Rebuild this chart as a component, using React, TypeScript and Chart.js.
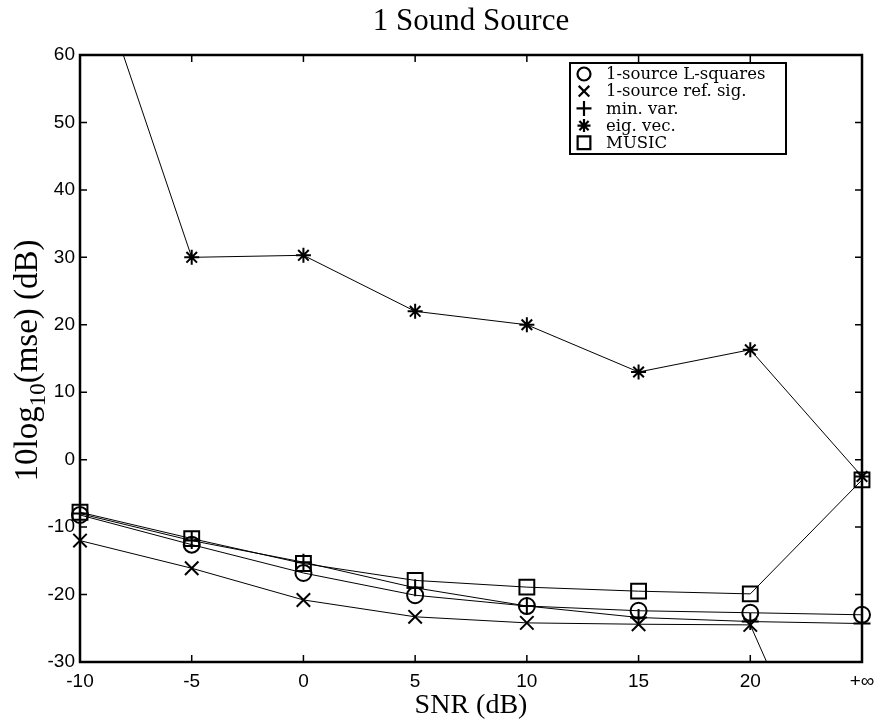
import React, { useEffect, useRef } from 'react';
import { Chart, registerables } from 'chart.js';

Chart.register(...registerables);

// SNR positions (25 stands for +∞)
const snr = [-10, -5, 0, 5, 10, 15, 20, 25];
const xTickLabels = ['-10', '-5', '0', '5', '10', '15', '20', '+∞'];
const yTickValues = [-30, -20, -10, 0, 10, 20, 30, 40, 50, 60];

const seriesNames = ['1-source L-squares', '1-source ref. sig.', 'min. var.', 'eig. vec.', 'MUSIC'];
const lSquares = [-8.2, -12.6, -16.8, -20.1, -21.7, -22.4, -22.7, -23.0];
const refSig = [-12.0, -16.1, -20.8, -23.3, -24.2, -24.4, -24.5, -62];
const minVar = [-8.0, -12.0, -15.2, -19.0, -21.7, -23.4, -24.0, -24.3];
const eigVec = [79, 30, 30.3, 22, 20, 13, 16.3, -2.5];
const music = [-7.8, -11.7, -15.4, -17.9, -18.9, -19.5, -19.9, -3.0];

const pointStyles = ['circle', 'crossRot', 'cross', 'star', 'rect'];
const pointRadii = [8, 9.5, 8.5, 7.5, 10.5];
const legendRadii = [6.5, 7.5, 7.5, 6.5, 9];

function drawMarker(ctx: CanvasRenderingContext2D, style: string, x: number, y: number, r: number) {
  ctx.beginPath();
  if (style === 'circle') {
    ctx.arc(x, y, r, 0, Math.PI * 2);
  } else if (style === 'rect') {
    const s = r * Math.SQRT1_2;
    ctx.rect(x - s, y - s, 2 * s, 2 * s);
  } else {
    const drawCross = (rot: boolean) => {
      for (let k = 0; k < 2; k++) {
        const a = (rot ? Math.PI / 4 : 0) + (k * Math.PI) / 2;
        const dx = Math.cos(a) * r;
        const dy = Math.sin(a) * r;
        ctx.moveTo(x - dx, y - dy);
        ctx.lineTo(x + dx, y + dy);
      }
    };
    if (style === 'cross') drawCross(false);
    else if (style === 'crossRot') drawCross(true);
    else {
      drawCross(false);
      drawCross(true);
    }
  }
  ctx.stroke();
}

const framePlugin = {
  id: 'frameTicks',
  beforeDraw(chart: any) {
    const ctx = chart.ctx;
    ctx.save();
    ctx.fillStyle = '#fff';
    ctx.fillRect(0, 0, chart.width, chart.height);
    ctx.restore();
  },
  afterDraw(chart: any) {
    const { ctx, chartArea: a, scales } = chart;
    ctx.save();
    ctx.strokeStyle = '#000';
    ctx.lineWidth = 1.5;
    const tl = 7;
    ctx.beginPath();
    snr.forEach((v) => {
      const px = scales.x.getPixelForValue(v);
      if (px > a.left + 1 && px < a.right - 1) {
        ctx.moveTo(px, a.bottom);
        ctx.lineTo(px, a.bottom - tl);
        ctx.moveTo(px, a.top);
        ctx.lineTo(px, a.top + tl);
      }
    });
    yTickValues.forEach((v) => {
      const py = scales.y.getPixelForValue(v);
      if (py > a.top + 1 && py < a.bottom - 1) {
        ctx.moveTo(a.left, py);
        ctx.lineTo(a.left + tl, py);
        ctx.moveTo(a.right, py);
        ctx.lineTo(a.right - tl, py);
      }
    });
    ctx.stroke();
    ctx.lineWidth = 2.5;
    ctx.strokeRect(a.left, a.top, a.right - a.left, a.bottom - a.top);

    // y-axis title with subscript
    ctx.save();
    const cy = (a.top + a.bottom) / 2 + 2;
    ctx.translate(27, cy);
    ctx.rotate(-Math.PI / 2);
    ctx.fillStyle = '#000';
    ctx.textBaseline = 'alphabetic';
    ctx.textAlign = 'left';
    const mainFont = '33px "Liberation Serif"';
    const subFont = '23px "Liberation Serif"';
    ctx.font = mainFont;
    const w1 = ctx.measureText('10log').width;
    const w3 = ctx.measureText('(mse) (dB)').width;
    ctx.font = subFont;
    const w2 = ctx.measureText('10').width;
    let sx = -(w1 + w2 + w3) / 2;
    ctx.font = mainFont;
    ctx.fillText('10log', sx, 10);
    sx += w1;
    ctx.font = subFont;
    ctx.fillText('10', sx, 18);
    sx += w2;
    ctx.font = mainFont;
    ctx.fillText('(mse) (dB)', sx, 10);
    ctx.restore();

    // legend box
    const bx = 570, by = 63, bw = 216, bh = 91;
    ctx.fillStyle = '#fff';
    ctx.fillRect(bx, by, bw, bh);
    ctx.lineWidth = 2;
    ctx.strokeRect(bx, by, bw, bh);
    ctx.font = '16.5px "DejaVu Serif"';
    ctx.textBaseline = 'middle';
    ctx.textAlign = 'left';
    chart.data.datasets.forEach((ds: any, i: number) => {
      const y = 74 + i * 17.2;
      ctx.strokeStyle = '#000';
      ctx.lineWidth = 2.2;
      drawMarker(ctx, pointStyles[i], 584, y, legendRadii[i]);
      ctx.fillStyle = '#000';
      ctx.fillText(ds.label, 606, y + 1);
    });
    ctx.restore();
  },
};

const allSeries = [lSquares, refSig, minVar, eigVec, music];

export default function App() {
  const ref = useRef<HTMLCanvasElement | null>(null);
  useEffect(() => {
    if (!ref.current) return;
    const datasets = allSeries.map((arr, i) => ({
      label: seriesNames[i],
      data: snr.map((x, j) => ({ x, y: arr[j] })),
      borderColor: '#000',
      borderWidth: 1,
      pointStyle: pointStyles[i],
      pointRadius: pointRadii[i],
      pointBorderWidth: 2,
      pointBorderColor: '#000',
      pointBackgroundColor: 'rgba(0,0,0,0)',
      fill: false,
      tension: 0,
      clip: { left: false, right: false, top: 0, bottom: 0 },
    }));
    const chart = new Chart(ref.current, {
      type: 'line',
      data: { datasets },
      options: {
        animation: false,
        responsive: false,
        events: [],
        layout: { padding: { left: 0, right: 24, top: 0, bottom: 0 } },
        plugins: {
          legend: { display: false },
          tooltip: { enabled: false },
          title: {
            display: true,
            text: '1 Sound Source',
            color: '#000',
            fullSize: false,
            font: { family: '"Liberation Serif"', size: 31, weight: 'normal' },
            padding: { top: 3, bottom: 14.8 },
          },
        },
        scales: {
          x: {
            type: 'linear',
            min: -10,
            max: 25,
            afterFit: (s: any) => { s.height = 65; },
            ticks: {
              stepSize: 5,
              autoSkip: false,
              maxRotation: 0,
              color: '#000',
              padding: 8,
              font: { family: '"Liberation Sans"', size: 19 },
              callback: (v: any) => {
                const i = snr.indexOf(Number(v));
                return i >= 0 ? xTickLabels[i] : '';
              },
            },
            grid: { display: false, drawTicks: false },
            border: { display: false },
            title: {
              display: true,
              text: 'SNR (dB)',
              color: '#000',
              font: { family: '"Liberation Serif"', size: 28, weight: 'normal' },
              padding: { top: 0, bottom: 5 },
            },
          },
          y: {
            min: -30,
            max: 60,
            afterFit: (s: any) => { s.width = 80; },
            ticks: {
              stepSize: 10,
              color: '#000',
              padding: 5,
              font: { family: '"Liberation Sans"', size: 19 },
            },
            grid: { display: false, drawTicks: false },
            border: { display: false },
            title: { display: false },
          },
        },
      },
      plugins: [framePlugin],
    } as any);
    return () => chart.destroy();
  }, []);
  return (
    <div style={{ position: 'absolute', left: 0, top: 0, width: 886, height: 727 }}>
      <canvas ref={ref} width={886} height={727} style={{ display: 'block' }} />
    </div>
  );
}
